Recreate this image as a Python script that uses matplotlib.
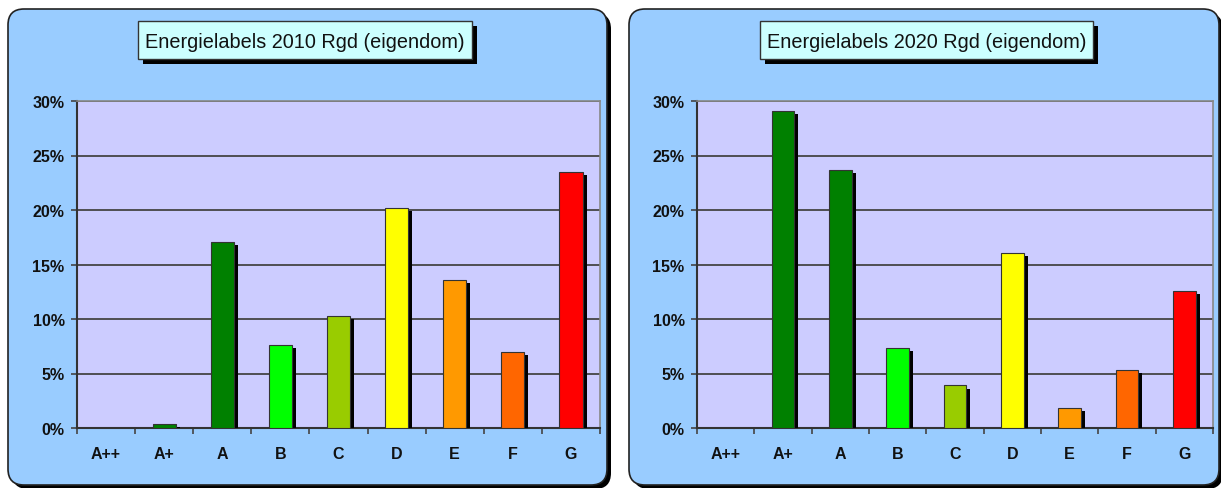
import matplotlib
matplotlib.use("Agg")
import matplotlib.pyplot as plt
import matplotlib.patheffects as pe
from matplotlib.patches import FancyBboxPatch, Rectangle
from matplotlib.ticker import FuncFormatter

plt.rcParams["font.family"] = ["Liberation Sans", "DejaVu Sans"]

labels = ["A++", "A+", "A", "B", "C", "D", "E", "F", "G"]
share_2010 = [0.0, 0.4, 17.1, 7.6, 10.3, 20.2, 13.6, 7.0, 23.5]
share_2020 = [0.0, 29.1, 23.7, 7.3, 3.9, 16.1, 1.8, 5.3, 12.6]
bar_colors = ["#008000", "#008000", "#008000", "#00FF00", "#99CC00",
              "#FFFF00", "#FF9900", "#FF6600", "#FF0000"]
titles = ["Energielabels 2010 Rgd (eigendom)", "Energielabels 2020 Rgd (eigendom)"]

W, H = 1221, 489
fig = plt.figure(figsize=(W / 100, H / 100), dpi=100)

# pixel-space background layer for the rounded panels and title boxes
bg = fig.add_axes([0, 0, 1, 1], zorder=0)
bg.set_xlim(0, W)
bg.set_ylim(H, 0)
bg.axis("off")

panels = [(8, 10, 599, 476), (629, 10, 590, 476)]
for (x0, y0, w, h) in panels:
    bg.add_patch(FancyBboxPatch((x0 + 4, y0 + 4), w, h,
                                boxstyle="round,pad=0,rounding_size=16",
                                fc="black", ec="none"))
    bg.add_patch(FancyBboxPatch((x0, y0), w, h,
                                boxstyle="round,pad=0,rounding_size=16",
                                fc="#99CCFF", ec="#222222", lw=1.2))

title_boxes = [(138, 22, 334, 38), (760, 22, 333, 38)]
for (x0, y0, w, h), t in zip(title_boxes, titles):
    bg.add_patch(Rectangle((x0 + 5, y0 + 5), w, h, fc="black", ec="none"))
    bg.add_patch(Rectangle((x0, y0), w, h, fc="#CCFFFF", ec="#333333", lw=1))
    bg.text(x0 + w / 2, y0 + h / 2 + 1, t, ha="center", va="center",
            fontsize=14.3, color="#111111")

axes_px = [(77, 102, 523, 327), (697, 102, 516, 327)]
shadow = [pe.SimplePatchShadow(offset=(2.9, -2.2), shadow_rgbFace="black", alpha=1.0),
          pe.Normal()]

for (x0, y0, w, h), vals in zip(axes_px, [share_2010, share_2020]):
    ax = fig.add_axes([x0 / W, 1 - (y0 + h) / H, w / W, h / H], zorder=2)
    ax.set_facecolor("#CCCCFF")
    pos = list(range(len(labels)))
    ax.bar(pos, vals, width=0.4, color=bar_colors, edgecolor="#333333",
           linewidth=0.8, path_effects=shadow, zorder=3)
    ax.set_xlim(-0.5, len(labels) - 0.5)
    ax.set_ylim(0, 30)
    ax.set_yticks(range(0, 31, 5))
    ax.yaxis.set_major_formatter(FuncFormatter(lambda v, _: f"{v:.0f}%"))
    ax.yaxis.grid(True, color="#444444", lw=1.3, zorder=1)
    ax.set_axisbelow(True)

    ax.set_xticks(pos)
    ax.set_xticklabels(labels)
    ax.set_xticks([p + 0.5 for p in pos[:-1]] + [-0.5, len(labels) - 0.5], minor=True)
    ax.tick_params(axis="x", which="major", length=0, pad=13,
                   labelsize=11.5, colors="#111111")
    ax.tick_params(axis="x", which="minor", length=4, width=1.2, color="#444444")
    ax.tick_params(axis="y", length=4, width=1.2, color="#444444", pad=5,
                   labelsize=11.5, labelcolor="#111111")
    for lab in ax.get_xticklabels() + ax.get_yticklabels():
        lab.set_fontweight("bold")

    for side in ("left", "bottom"):
        ax.spines[side].set_color("#333333")
        ax.spines[side].set_linewidth(1.5)
    for side in ("top", "right"):
        ax.spines[side].set_color("#888888")
        ax.spines[side].set_linewidth(1.2)

fig.savefig("out.png", dpi=100)
